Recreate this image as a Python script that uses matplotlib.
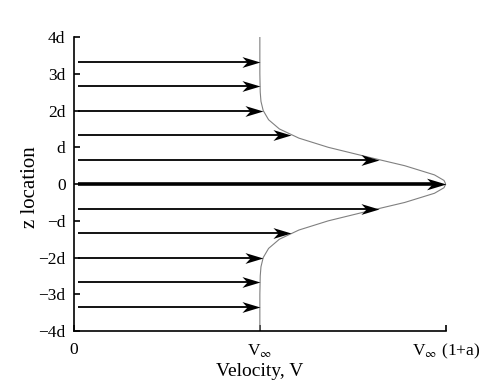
import matplotlib.pyplot as plt
from matplotlib.path import Path

plt.rcParams['font.family'] = ['Liberation Serif', 'DejaVu Serif']
plt.rcParams['mathtext.fontset'] = 'stix'

# velocity profile V/V_inf sampled along z (in units of d)
profile_z = [-4.0, -3.5, -3.0, -2.75, -2.5, -2.25, -2.0, -1.75, -1.5, -1.25, -1.0,
             -0.75, -0.5, -0.25, -0.1, 0.0, 0.1, 0.25, 0.5, 0.75, 1.0, 1.25, 1.5, 1.75, 2.0,
             2.25, 2.5, 2.75, 3.0, 3.5, 4.0]
profile_v = [1.0, 1.0, 1.0, 1.001, 1.002, 1.006, 1.018, 1.047, 1.105, 1.21, 1.368,
             1.57, 1.779, 1.939, 1.99, 2.0, 1.99, 1.939, 1.779, 1.57, 1.368, 1.21, 1.105, 1.047, 1.018,
             1.006, 1.002, 1.001, 1.0, 1.0, 1.0]

# arrow rows and the velocity at each arrow tip
arrow_z = [3.333, 2.667, 2.0, 1.333, 0.667, 0.0, -0.667, -1.333, -2.0, -2.667, -3.333]
arrow_v = [1.0, 1.001, 1.018, 1.169, 1.641, 2.0, 1.641, 1.169, 1.018, 1.001, 1.0]

yticks = [4, 3, 2, 1, 0, -1, -2, -3, -4]
ytick_labels = ['4d', '3d', '2d', 'd', '0', '\u2212d', '\u22122d', '\u22123d', '\u22124d']
xticks = [0, 1, 2]
xtick_labels = ['0', r'V$_\infty$', r'V$_\infty$ (1+a)']

# barbed arrow head, tip at the origin
head = Path([(0, 0), (-1, 0.3), (-0.72, 0), (-1, -0.3), (0, 0)],
            [Path.MOVETO, Path.LINETO, Path.LINETO, Path.LINETO, Path.CLOSEPOLY])

fig = plt.figure(figsize=(4.83, 3.9), dpi=100)
ax = fig.add_axes([0.153, 0.151, 0.77, 0.754])

ax.plot(profile_v, profile_z, color='#808080', lw=0.8)

for z, v in zip(arrow_z, arrow_v):
    lw = 2.6 if z == 0 else 1.3
    ax.plot([0.02, v - 0.04], [z, z], color='black', lw=lw, solid_capstyle='butt')
    ax.plot([v], [z], marker=head, markersize=28 if z == 0 else 26,
            color='black', markeredgewidth=0, linestyle='none')

ax.set_xlim(0, 2)
ax.set_ylim(-4, 4)
ax.spines['top'].set_visible(False)
ax.spines['right'].set_visible(False)
ax.spines['left'].set_linewidth(1.2)
ax.spines['bottom'].set_linewidth(1.2)
ax.set_yticks(yticks)
ax.set_yticklabels(ytick_labels)
ax.set_xticks(xticks)
ax.set_xticklabels(xtick_labels)
ax.tick_params(direction='in', length=4, width=1.2, labelsize=12.5)
ax.tick_params(axis='x', pad=8)
ax.tick_params(axis='y', pad=6)
ax.set_xlabel('Velocity, V', fontsize=14, labelpad=1)
ax.set_ylabel('z location', fontsize=15)
ax.yaxis.set_label_coords(-0.09, 0.49)

fig.savefig('out.png', dpi=100)
